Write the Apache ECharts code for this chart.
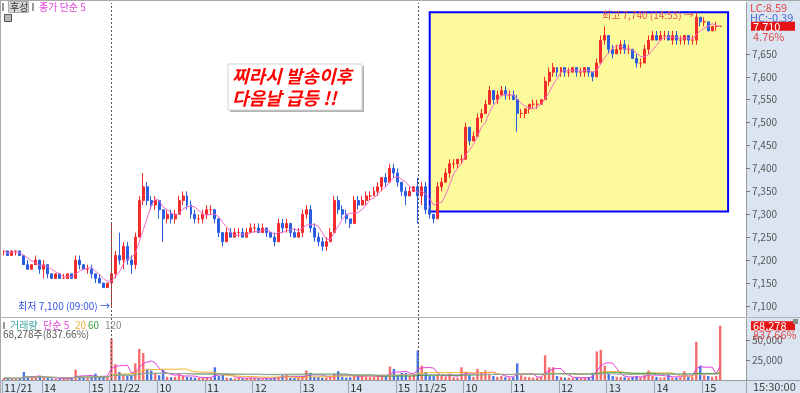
<!DOCTYPE html>
<html><head><meta charset="utf-8">
<script src="https://cdn.jsdelivr.net/npm/echarts@6/dist/echarts.min.js"></script>
<style>html,body{margin:0;padding:0;background:#fff}#c{width:800px;height:393px}</style>
</head><body><div id="c"></div>
<script>
// ---------- DATA ----------
const days = ['11/21', '11/22', '11/25'];
const firstDayStart = '13:10';
// 5-minute candles: [open, close, low, high]
const ohlc1121 = [
[7220,7220,7210,7220],[7220,7210,7210,7220],[7210,7220,7210,7220],[7220,7220,7210,7220],[7220,7210,7210,7220],
[7210,7190,7190,7210],[7190,7180,7180,7200],[7180,7190,7180,7190],[7190,7200,7190,7210],[7200,7180,7170,7200],
[7180,7190,7160,7200],[7190,7170,7160,7190],[7170,7160,7160,7170],[7160,7170,7160,7170],[7170,7160,7160,7170],
[7160,7160,7160,7170],[7160,7170,7160,7170],[7170,7160,7160,7170],[7160,7200,7160,7210],[7200,7190,7180,7210],
[7190,7180,7180,7190],[7180,7180,7170,7190],[7180,7170,7160,7190],[7170,7160,7150,7170],[7160,7150,7150,7170],
[7150,7140,7140,7150],[7140,7150,7140,7150]
];
const ohlc1122 = [
[7150,7170,7100,7280],[7170,7210,7160,7220],[7210,7200,7190,7260],[7200,7230,7180,7240],[7230,7200,7190,7240],
[7200,7190,7170,7210],[7190,7250,7180,7260],[7250,7330,7250,7340],[7330,7360,7320,7390],[7360,7330,7320,7370],
[7330,7320,7310,7340],[7320,7330,7310,7340],[7330,7310,7290,7330],[7310,7290,7240,7310],[7290,7300,7280,7310],
[7300,7290,7280,7310],[7290,7300,7280,7310],[7300,7330,7300,7340],[7330,7340,7320,7350],[7340,7320,7310,7350],
[7320,7300,7290,7330],[7300,7290,7280,7310],[7290,7290,7280,7300],[7290,7300,7280,7310],[7300,7310,7290,7320],
[7310,7310,7300,7320],[7310,7290,7280,7310],[7290,7260,7250,7290],[7260,7240,7230,7260],[7240,7260,7240,7270],
[7260,7250,7250,7270],[7250,7260,7250,7270],[7260,7260,7250,7270],[7260,7250,7250,7270],[7250,7260,7250,7270],
[7260,7270,7260,7280],[7270,7270,7260,7280],[7270,7260,7260,7280],[7260,7270,7260,7280],[7270,7260,7250,7270],
[7260,7250,7250,7260],[7250,7240,7230,7260],[7240,7280,7240,7290],[7280,7270,7260,7290],[7270,7280,7260,7290],
[7280,7260,7250,7280],[7260,7250,7250,7270],[7250,7260,7250,7270],[7260,7300,7250,7310],[7300,7310,7290,7320],
[7310,7270,7260,7320],[7270,7250,7240,7280],[7250,7240,7230,7260],[7240,7230,7220,7250],[7230,7240,7220,7250],
[7240,7260,7240,7270],[7260,7330,7260,7340],[7330,7310,7300,7340],[7310,7300,7290,7320],[7300,7290,7280,7310],
[7290,7280,7270,7290],[7280,7330,7280,7340],[7330,7320,7310,7340],[7320,7330,7320,7340],[7330,7340,7320,7350],
[7340,7340,7330,7350],[7340,7350,7340,7360],[7350,7360,7340,7370],[7360,7380,7350,7380],[7380,7370,7360,7390],
[7370,7400,7370,7410],[7400,7390,7380,7410],[7390,7370,7360,7400],[7370,7350,7340,7370],[7350,7340,7320,7360],
[7340,7350,7340,7360],[7350,7360,7350,7360]
];
const ohlc1125 = [
[7360,7340,7280,7380],[7340,7360,7320,7370],[7360,7310,7300,7370],[7310,7300,7290,7320],[7300,7290,7280,7300],
[7290,7360,7290,7370],[7360,7370,7350,7380],[7370,7390,7370,7400],[7390,7410,7380,7420],[7410,7410,7400,7420],
[7410,7420,7400,7420],[7420,7420,7410,7430],[7420,7490,7420,7500],[7490,7460,7450,7490],[7460,7470,7460,7480],
[7470,7510,7470,7520],[7510,7520,7500,7530],[7520,7540,7520,7550],[7540,7570,7540,7580],[7570,7550,7540,7570],
[7550,7560,7540,7570],[7560,7570,7560,7580],[7570,7560,7550,7580],[7560,7560,7550,7570],[7560,7550,7550,7570],
[7550,7520,7480,7560],[7520,7520,7510,7530],[7520,7530,7510,7530],[7530,7540,7520,7540],[7540,7540,7530,7550],
[7540,7540,7530,7550],[7540,7550,7540,7550],[7550,7590,7550,7600],[7590,7610,7580,7620],[7610,7620,7600,7630],
[7620,7610,7600,7620],[7610,7620,7600,7620],[7620,7610,7600,7620],[7610,7610,7600,7620],[7610,7620,7610,7620],
[7620,7610,7600,7620],[7610,7610,7600,7620],[7610,7620,7600,7620],[7620,7610,7600,7620],[7610,7600,7590,7610],
[7600,7630,7600,7640],[7630,7680,7630,7690],[7680,7690,7670,7710],[7690,7660,7650,7690],[7660,7650,7640,7670],
[7650,7660,7650,7670],[7660,7670,7650,7680],[7670,7660,7650,7680],[7660,7660,7650,7670],[7660,7640,7640,7660],
[7640,7630,7620,7650],[7630,7630,7620,7640],[7630,7660,7630,7670],[7660,7680,7650,7690],[7680,7690,7680,7700],
[7690,7680,7680,7700],[7680,7690,7680,7700],[7690,7690,7680,7700],[7690,7680,7680,7700],[7680,7690,7670,7700],
[7690,7680,7670,7700],[7680,7680,7670,7690],[7680,7690,7670,7690],[7690,7680,7670,7690],[7680,7680,7670,7690],
[7680,7730,7670,7740],[7730,7720,7710,7730],[7720,7720,7710,7730],[7720,7700,7700,7720],[7700,7710,7700,7710],
[7710,7710,7700,7720],[7710,7710,7710,7710]
];
const vol1121 = [2500,2000,1800,2200,2000,10000,4000,3000,3500,5000,3000,2500,2000,1800,1500,1800,2000,2500,13000,5000,3500,3000,4000,8000,4000,4500,3500];
const vol1122 = [
52000,20000,10000,6000,5000,5500,21000,39000,34000,14000,
12000,8000,6000,13000,4000,3500,4000,9000,5000,4000,
3500,3000,2500,3000,3500,3000,16000,5000,7000,3000,
2500,2000,2500,2000,2500,3000,2500,2000,2000,2500,
2000,3500,4000,6000,6500,3000,2500,3000,5000,12000,
9000,4000,3500,3000,3000,4000,8000,11000,4000,3000,
3500,5000,6000,6000,4000,3500,4000,5000,7000,6000,
17000,14000,6000,9000,9000,5000,8000];
const vol1125 = [
37000,18000,10000,5000,5000,6000,5000,4000,8000,3500,
3000,16000,10000,6000,4000,14000,10000,12000,8000,5000,
4000,5000,3500,3000,3500,21000,6000,4000,3500,3000,
3000,4000,31000,16000,16000,5000,4000,3000,3000,2500,
3000,2500,3000,3500,9000,36000,38000,18000,8000,5000,
4000,4000,3500,3000,4000,5000,3500,6000,12000,5000,
4000,3000,3500,7000,3000,3000,3500,11000,4000,4000,
48000,18000,6000,5000,4000,5000,68278];
const priceTicks = [7100,7150,7200,7250,7300,7350,7400,7450,7500,7550,7600,7650];
const volTicks = [25000, 50000];
const highTimeText = '14:53';
const volRatioText = '837.66%';
// highlighted box annotation (data coords)
const boxFrom = '11/25 09:15', boxToPad = 1, boxLow = 7306, boxHigh = 7741;

// ---------- BUILD ----------
const pad2 = n => (n < 10 ? '0' : '') + n;
const daySlots = [];
for (let m = 9 * 60; m <= 15 * 60 + 15; m += 5) daySlots.push(pad2(Math.floor(m / 60)) + ':' + pad2(m % 60));
daySlots.push('15:30');
const categories = [];
days.forEach((d, k) => {
  const slots = k === 0 ? daySlots.slice(daySlots.indexOf(firstDayStart)) : daySlots;
  slots.forEach(t => categories.push(d + ' ' + t));
});
const nData = categories.length;
for (let p = 0; p < 6; p++) categories.push('pad' + p);

const ohlc = ohlc1121.concat(ohlc1122, ohlc1125);
const vols = vol1121.concat(vol1122, vol1125);
const closes = ohlc.map(d => d[1]);
const lowAll = Math.min(...ohlc.map(d => d[2]));
const highAll = Math.max(...ohlc.map(d => d[3]));
const lowTime = categories[ohlc.findIndex(d => d[2] === lowAll)].split(' ')[1];
function sma(arr, n) {
  return arr.map((_, i) => {
    const s = Math.max(0, i - n + 1); let sum = 0;
    for (let k = s; k <= i; k++) sum += arr[k];
    return +(sum / (i - s + 1)).toFixed(2);
  });
}
const fmt = v => Math.round(v).toLocaleString('en-US');
function isMajor(i) {
  const c = categories[i];
  if (!c || c.indexOf('pad') === 0) return false;
  const t = c.split(' ')[1];
  return i === 0 || t.slice(3) === '00';
}
function fmtX(value, i) {
  if (!value || value.indexOf('pad') === 0) return '';
  const [d, t] = value.split(' ');
  if (i === 0 || t === '09:00') return d;
  return String(parseInt(t.slice(0, 2), 10));
}
const dayStarts = days.slice(1).map(d => d + ' 09:00');

const FONT = '"Noto Sans CJK KR", "Noto Sans", sans-serif';
const UP = '#f22b2b', DOWN = '#2a5de0';

const volData = vols.map((v, i) => ({
  value: v,
  itemStyle: { color: ohlc[i][1] >= ohlc[i][0] ? 'rgba(244,70,70,0.8)' : 'rgba(40,90,225,0.85)' }
}));

const dayLine = {
  silent: true, symbol: ['none', 'none'], label: { show: false },
  lineStyle: { color: '#555', type: [2, 2], width: 1 },
  data: dayStarts.map(c => ({ xAxis: c }))
};

const option = {
  animation: false,
  backgroundColor: '#ffffff',
  textStyle: { fontFamily: FONT },
  grid: [
    { left: 2, top: 3, width: 744, height: 313 },
    { left: 2, top: 318, width: 744, height: 62 }
  ],
  xAxis: [
    { type: 'category', gridIndex: 0, data: categories, boundaryGap: true, show: false },
    { type: 'category', gridIndex: 1, data: categories, boundaryGap: true,
      axisLine: { show: true, lineStyle: { color: '#9a9a9a' } },
      axisTick: { show: true, interval: isMajor, length: 13, lineStyle: { color: '#99a3b3' } },
      axisLabel: { show: true, interval: isMajor, formatter: fmtX, align: 'left', margin: 2, fontSize: 11, color: '#333' },
      splitLine: { show: false } }
  ],
  yAxis: [
    { type: 'value', gridIndex: 0, position: 'right', min: 7078, max: 7761,
      axisLine: { show: true, lineStyle: { color: '#8a8a8a', type: 'dotted' } },
      axisTick: { show: true, length: 4, lineStyle: { color: '#777' }, customValues: priceTicks },
      axisLabel: { show: true, customValues: priceTicks, formatter: v => fmt(v), fontSize: 10, color: '#555', margin: 6 },
      splitLine: { show: false } },
    { type: 'value', gridIndex: 1, position: 'right', min: 0, max: 78000,
      axisLine: { show: true, lineStyle: { color: '#8a8a8a', type: 'dotted' } },
      axisTick: { show: true, length: 4, lineStyle: { color: '#777' }, customValues: volTicks },
      axisLabel: { show: true, customValues: volTicks, formatter: v => fmt(v), fontSize: 10, color: '#555', margin: 6 },
      splitLine: { show: false } }
  ],
  series: [
    { type: 'candlestick', name: 'price', xAxisIndex: 0, yAxisIndex: 0, data: ohlc, barWidth: '62%',
      itemStyle: { color: UP, color0: DOWN, borderColor: UP, borderColor0: DOWN, borderColorDoji: UP, borderWidth: 1 },
      markArea: { silent: true,
        itemStyle: { color: '#fdfa9c', borderColor: '#0000ff', borderWidth: 2 },
        data: [[{ xAxis: boxFrom, yAxis: boxLow }, { xAxis: 'pad' + boxToPad, yAxis: boxHigh }]] },
      markLine: dayLine,
      markPoint: { silent: true, symbol: 'circle', symbolSize: 1, itemStyle: { color: 'rgba(0,0,0,0)' },
        data: [
          { type: 'max', valueDim: 'highest',
            label: { show: true, position: 'left', distance: 2, offset: [0, 3], fontSize: 10, color: '#e65252', fontFamily: FONT,
              formatter: p => '최고 ' + fmt(p.value) + ' (' + highTimeText + ') →' } },
          { type: 'min', valueDim: 'lowest',
            label: { show: true, position: 'left', distance: 1, fontSize: 10, color: '#3552e0', fontFamily: FONT,
              formatter: p => '최저 ' + fmt(p.value) + ' (' + lowTime + ') →' } }
        ] } },
    { type: 'line', name: 'ma5', xAxisIndex: 0, yAxisIndex: 0, data: sma(closes, 5), symbol: 'none', z: 3,
      lineStyle: { color: '#f26cc6', width: 1 } },
    { type: 'bar', name: 'vol', xAxisIndex: 1, yAxisIndex: 1, data: volData, barWidth: '60%', markLine: dayLine },
    { type: 'line', xAxisIndex: 1, yAxisIndex: 1, data: sma(vols, 5), symbol: 'none', z: 3, lineStyle: { color: '#e23fe0', width: 1 } },
    { type: 'line', xAxisIndex: 1, yAxisIndex: 1, data: sma(vols, 20), symbol: 'none', z: 3, lineStyle: { color: '#f0b030', width: 1 } },
    { type: 'line', xAxisIndex: 1, yAxisIndex: 1, data: sma(vols, 60), symbol: 'none', z: 3, lineStyle: { color: '#2f9a3a', width: 1 } },
    { type: 'line', xAxisIndex: 1, yAxisIndex: 1, data: sma(vols, 120), symbol: 'none', z: 3, lineStyle: { color: '#a8a8a8', width: 1 } }
  ]
};

const chart = echarts.init(document.getElementById('c'), null, { renderer: 'canvas' });
chart.setOption(option);

// ---------- annotations ----------
const last = closes[nData - 1];
const prevClose = ohlc1122[ohlc1122.length - 1][1];
const lastVol = vols[nData - 1];
const yLast = chart.convertToPixel({ yAxisIndex: 0 }, last);
const yVol = chart.convertToPixel({ yAxisIndex: 1 }, lastVol);
const pct = v => v.toFixed(2);

const T = (x, y, text, fill, size, extra) => Object.assign({
  type: 'text', x: x, y: y, z: 20, silent: true,
  style: { text: text, fill: fill, font: (size || 11) + 'px ' + FONT, verticalAlign: 'middle', align: 'left' }
}, extra || {});
const R = (x, y, w, h, fill, stroke, z) => ({
  type: 'rect', z: z === undefined ? 20 : z, silent: true, shape: { x: x, y: y, width: w, height: h },
  style: { fill: fill, stroke: stroke || null, lineWidth: 1 }
});
const L = (x1, y1, x2, y2, stroke, z) => ({
  type: 'line', z: z === undefined ? 20 : z, silent: true, shape: { x1: x1, y1: y1, x2: x2, y2: y2 },
  style: { stroke: stroke, lineWidth: 1 }
});

const g = [
  R(746, 0, 54, 393, '#dbe5f1', null, -10),
  R(0, 380, 746, 13, '#dbe5f1', null, -10),
  L(0, 0.5, 800, 0.5, '#a8a8a8'),
  L(0.5, 0, 0.5, 393, '#a8a8a8'),
  L(0, 317.5, 800, 317.5, '#b4b4b4'),
  L(746, 380.5, 800, 380.5, '#a0a0a0'),
  // top-left legend
  R(2, 3, 2, 8, '#9a9a9a'),
  R(8.5, 1.5, 20, 11, '#d6d6d6', '#b0b0b0'),
  T(10, 7.5, '후성', '#333', 10),
  R(32, 3, 2, 8, '#9a9a9a'),
  T(39, 7.5, '종가 단순 5', '#e244d6', 10),
  R(4.5, 14.5, 7, 7, '#b8b8b8', '#555'),
  // volume legend
  R(3, 322, 2, 7, '#9a9a9a'),
  T(10, 325.5, '거래량', '#44a6a6', 10),
  T(43, 325.5, '단순 5', '#e244d6', 10),
  T(75, 325.5, '20', '#f0b030', 10),
  T(88, 325.5, '60', '#3aa040', 10),
  T(105, 325.5, '120', '#8a8a8a', 10),
  T(3, 334.5, fmt(lastVol) + '주(' + volRatioText + ')', '#555', 10),
  // right strip
  T(750, 7.5, 'LC:' + pct((last - lowAll) / lowAll * 100), '#e04848', 11),
  T(750, 17.5, 'HC:' + pct((last - highAll) / highAll * 100), '#4868d8', 11),
  R(751, yLast - 4.5, 44, 9, '#e41414'),
  T(753, yLast, fmt(last), '#ffffff', 11),
  T(753, yLast + 10, pct((last - prevClose) / prevClose * 100) + '%', '#e04848', 11),
  R(751, yVol - 4.5, 44, 9, '#e41414'),
  T(753, yVol, fmt(lastVol), '#ffffff', 11),
  T(753, yVol + 9, volRatioText, '#e04848', 11),
  R(793, 319, 5, 5, '#8a8a8a'),
  T(753, 387, '15:30:00', '#444', 11),
  // callout box
  R(230, 66, 134, 46, '#b3b3b3', null, 18),
  R(228, 64, 134, 46, '#ffffff', '#d4d4d4', 19),
  { type: 'text', x: 232, y: 65, z: 21, silent: true,
    style: { text: '찌라시 발송이후\n다음날 급등 !!', fill: '#ff0000', font: 'italic bold 18px ' + FONT,
      lineHeight: 22, verticalAlign: 'top', align: 'left' } }
];
chart.setOption({ graphic: g });
</script>
</body></html>
